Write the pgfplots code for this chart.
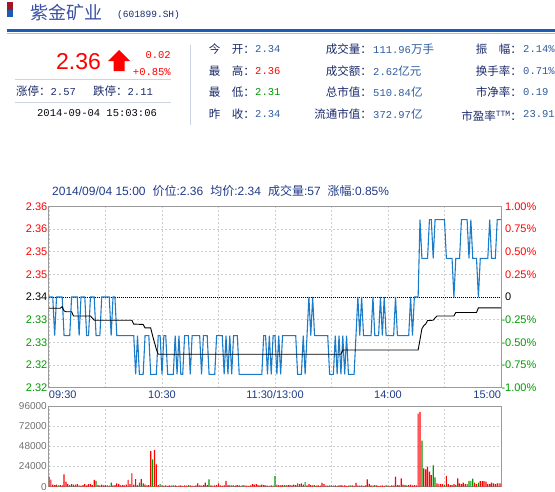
\documentclass[border=0pt]{standalone}
\usepackage{pgfplots}
\pgfplotsset{compat=1.18}
\usepackage{fontspec}
\setmainfont{Liberation Sans}
\newfontfamily\cjk{Noto Sans CJK SC}
\newfontfamily\mono{Liberation Mono}
\definecolor{navy}{HTML}{1B2A6B}
\definecolor{valblue}{HTML}{2E5C9E}
\definecolor{titleblue}{HTML}{3A4FA5}
\definecolor{upred}{HTML}{FF0000}
\definecolor{dngreen}{HTML}{009900}
\definecolor{framegray}{HTML}{9A9A9A}
\definecolor{gridgray}{HTML}{CFCFCF}
\definecolor{priceblue}{HTML}{1A7BC9}
\definecolor{labelnavy}{HTML}{1E3A8A}
\definecolor{lineblue}{HTML}{1E5CB3}
\definecolor{lightline}{HTML}{A9C0E0}
\definecolor{sepgray}{HTML}{CDD3E2}
\definecolor{volgray}{HTML}{707070}
\definecolor{markred}{HTML}{A01828}
\newcommand{\lab}{\cjk\fontsize{11.5bp}{12bp}\selectfont}
\newcommand{\val}{\mono\fontsize{10.5bp}{12bp}\selectfont}
\begin{document}
\begin{tikzpicture}
\useasboundingbox (0,0) rectangle (555bp,-492bp);
\begin{scope}[x=1bp,y=-1bp]
  % top header
  \fill[markred] (7,2) rectangle (13,10);
  \fill[lineblue] (7,10) rectangle (13,17);
  \node[anchor=west,inner sep=0,text=titleblue,font=\cjk\fontsize{18bp}{18bp}\selectfont] at (30,13) {紫金矿业};
  \node[anchor=west,inner sep=0,text=navy,font=\mono\fontsize{9.5bp}{10bp}\selectfont] at (117,15) {(601899.SH)};
  \fill[lineblue] (7,28.7) rectangle (555,31.7);
  \fill[lightline] (7,32.7) rectangle (555,33.7);
  % price block
  \node[anchor=west,inner sep=0,text=upred,font=\fontsize{23bp}{23bp}\selectfont] at (56,62) {2.36};
  \fill[upred] (119,50) -- (130,61) -- (124.5,61) -- (124.5,71) -- (113.5,71) -- (113.5,61) -- (108,61) -- cycle;
  \node[anchor=east,inner sep=0,text=upred,font=\val] at (171,55) {0.02};
  \node[anchor=east,inner sep=0,text=upred,font=\val] at (171,72) {+0.85\%};
  \draw[sepgray,line width=0.8bp] (15,79) -- (171,79);
  \node[anchor=west,inner sep=0,text=navy] at (16,91) {{\lab 涨停：}{\val 2.57}};
  \node[anchor=west,inner sep=0,text=navy] at (93,91) {{\lab 跌停：}{\val 2.11}};
  \draw[sepgray,line width=0.8bp] (15,102) -- (171,102);
  \node[anchor=west,inner sep=0,text=black!85!navy,font=\val] at (37,113) {2014-09-04 15:03:06};
  \draw[sepgray,line width=0.8bp] (190,45) -- (190,125);
  % column 1
  \node[anchor=east,inner sep=0,text=navy,font=\lab] at (255,49) {今　开：};
  \node[anchor=west,inner sep=0,text=valblue,font=\val] at (255,49) {2.34};
  \node[anchor=east,inner sep=0,text=navy,font=\lab] at (255,71) {最　高：};
  \node[anchor=west,inner sep=0,text=upred,font=\val] at (255,71) {2.36};
  \node[anchor=east,inner sep=0,text=navy,font=\lab] at (255,92) {最　低：};
  \node[anchor=west,inner sep=0,text=dngreen,font=\val] at (255,92) {2.31};
  \node[anchor=east,inner sep=0,text=navy,font=\lab] at (255,114) {昨　收：};
  \node[anchor=west,inner sep=0,text=valblue,font=\val] at (255,114) {2.34};
  % column 2
  \node[anchor=east,inner sep=0,text=navy,font=\lab] at (372,49) {成交量：};
  \node[anchor=west,inner sep=0,text=valblue] at (373,49) {{\val 111.96}{\lab 万手}};
  \node[anchor=east,inner sep=0,text=navy,font=\lab] at (372,71) {成交额：};
  \node[anchor=west,inner sep=0,text=valblue] at (373,71) {{\val 2.62}{\lab 亿元}};
  \node[anchor=east,inner sep=0,text=navy,font=\lab] at (372,92) {总市值：};
  \node[anchor=west,inner sep=0,text=valblue] at (373,92) {{\val 510.84}{\lab 亿}};
  \node[anchor=east,inner sep=0,text=navy,font=\lab] at (372,114) {流通市值：};
  \node[anchor=west,inner sep=0,text=valblue] at (373,114) {{\val 372.97}{\lab 亿}};
  % column 3
  \node[anchor=east,inner sep=0,text=navy,font=\lab] at (522,49) {振　幅：};
  \node[anchor=west,inner sep=0,text=valblue,font=\val] at (523,49) {2.14\%};
  \node[anchor=east,inner sep=0,text=navy,font=\lab] at (522,71) {换手率：};
  \node[anchor=west,inner sep=0,text=valblue,font=\val] at (523,71) {0.71\%};
  \node[anchor=east,inner sep=0,text=navy,font=\lab] at (522,92) {市净率：};
  \node[anchor=west,inner sep=0,text=valblue,font=\val] at (523,92) {0.19};
  \node[anchor=east,inner sep=0,text=navy] at (522,116) {{\lab 市盈率}\raisebox{4bp}{\mono\fontsize{8bp}{8bp}\selectfont TTM}{\lab ：}};
  \node[anchor=west,inner sep=0,text=valblue,font=\val] at (523,114) {23.91};
  % chart title
  \node[anchor=west,inner sep=0,text=labelnavy,font=\fontsize{12bp}{13bp}\selectfont] at (52,191)
    {2014/09/04 15:00\hspace{7bp}{\cjk 价位}:2.36\hspace{7bp}{\cjk 均价}:2.34\hspace{7bp}{\cjk 成交量}:57\hspace{7bp}{\cjk 涨幅}:0.85\%};
\end{scope}

% ---------------- main price chart ----------------
\begin{axis}[
  at={(49bp,-387.5bp)}, anchor=south west,
  scale only axis, width=452bp, height=181bp,
  xmin=0, xmax=240, ymin=2.3166, ymax=2.3634,
  axis line style={framegray, line width=1bp},
  major tick length=0pt,
  xtick={0,30,...,240},
  xticklabels={\makebox[0pt][l]{09:30},,10:30,,11:30/13:00,,14:00,,\makebox[0pt][r]{15:00}},
  xticklabel style={text=labelnavy, font=\fontsize{11bp}{12bp}\selectfont, inner sep=0pt, yshift=-3bp},
  ytick={2.3166,2.32245,2.3283,2.33415,2.34,2.34585,2.3517,2.35755,2.3634},
  yticklabels={\textcolor{dngreen}{2.32},\textcolor{dngreen}{2.32},\textcolor{dngreen}{2.33},\textcolor{dngreen}{2.33},\textcolor{black}{2.34},\textcolor{upred}{2.35},\textcolor{upred}{2.35},\textcolor{upred}{2.36},\textcolor{upred}{2.36}},
  yticklabel style={font=\fontsize{11bp}{12bp}\selectfont, inner sep=0pt, xshift=-1.5bp},
  grid=major, major grid style={gridgray, dash pattern=on 2bp off 2bp, line width=0.6bp},
]
\addplot[black, line width=0.6bp, dash pattern=on 1bp off 1bp] coordinates {(0,2.34)(240,2.34)};
\addplot[priceblue, line width=1.1bp] coordinates {
(0,2.34)(1,2.34)(2,2.34)(3,2.33)(4,2.34)(5,2.34)(6,2.34)(7,2.34)(8,2.33)(9,2.33)
(10,2.33)(11,2.33)(12,2.34)(13,2.34)(14,2.34)(15,2.34)(16,2.33)(17,2.34)(18,2.34)(19,2.34)
(20,2.33)(21,2.33)(22,2.34)(23,2.34)(24,2.34)(25,2.33)(26,2.33)(27,2.33)(28,2.34)(29,2.34)
(30,2.34)(31,2.34)(32,2.34)(33,2.33)(34,2.34)(35,2.34)(36,2.33)(37,2.33)(38,2.33)(39,2.33)
(40,2.33)(41,2.33)(42,2.33)(43,2.33)(44,2.33)(45,2.33)(46,2.32)(47,2.33)(48,2.32)(49,2.32)
(50,2.32)(51,2.33)(52,2.33)(53,2.33)(54,2.32)(55,2.32)(56,2.32)(57,2.32)(58,2.33)(59,2.33)
(60,2.32)(61,2.33)(62,2.33)(63,2.32)(64,2.32)(65,2.32)(66,2.32)(67,2.33)(68,2.32)(69,2.33)
(70,2.32)(71,2.32)(72,2.33)(73,2.33)(74,2.33)(75,2.32)(76,2.33)(77,2.33)(78,2.33)(79,2.33)
(80,2.33)(81,2.32)(82,2.33)(83,2.33)(84,2.33)(85,2.32)(86,2.32)(87,2.32)(88,2.32)(89,2.33)
(90,2.33)(91,2.33)(92,2.33)(93,2.32)(94,2.33)(95,2.32)(96,2.33)(97,2.32)(98,2.33)(99,2.33)
(100,2.33)(101,2.32)(102,2.32)(103,2.32)(104,2.32)(105,2.32)(106,2.32)(107,2.32)(108,2.32)(109,2.32)
(110,2.32)(111,2.32)(112,2.32)(113,2.32)(114,2.33)(115,2.33)(116,2.32)(117,2.33)(118,2.32)(119,2.33)
(120,2.33)(121,2.32)(122,2.33)(123,2.32)(124,2.33)(125,2.33)(126,2.33)(127,2.33)(128,2.33)(129,2.33)
(130,2.33)(131,2.33)(132,2.32)(133,2.32)(134,2.32)(135,2.33)(136,2.32)(137,2.33)(138,2.34)(139,2.33)
(140,2.34)(141,2.33)(142,2.33)(143,2.33)(144,2.33)(145,2.33)(146,2.33)(147,2.33)(148,2.33)(149,2.32)
(150,2.32)(151,2.32)(152,2.33)(153,2.32)(154,2.33)(155,2.32)(156,2.33)(157,2.32)(158,2.33)(159,2.32)
(160,2.32)(161,2.32)(162,2.32)(163,2.33)(164,2.34)(165,2.33)(166,2.34)(167,2.33)(168,2.33)(169,2.33)
(170,2.33)(171,2.33)(172,2.34)(173,2.33)(174,2.33)(175,2.33)(176,2.34)(177,2.33)(178,2.34)(179,2.33)
(180,2.33)(181,2.33)(182,2.33)(183,2.33)(184,2.34)(185,2.33)(186,2.33)(187,2.33)(188,2.33)(189,2.33)
(190,2.33)(191,2.33)(192,2.34)(193,2.33)(194,2.34)(195,2.34)(196,2.34)(197,2.36)(198,2.35)(199,2.35)
(200,2.35)(201,2.35)(202,2.36)(203,2.36)(204,2.35)(205,2.36)(206,2.36)(207,2.36)(208,2.36)(209,2.36)
(210,2.36)(211,2.35)(212,2.35)(213,2.35)(214,2.35)(215,2.34)(216,2.35)(217,2.35)(218,2.35)(219,2.36)
(220,2.36)(221,2.36)(222,2.36)(223,2.35)(224,2.36)(225,2.35)(226,2.35)(227,2.35)(228,2.34)(229,2.35)
(230,2.35)(231,2.35)(232,2.35)(233,2.35)(234,2.36)(235,2.35)(236,2.35)(237,2.35)(238,2.36)(239,2.36)
(240,2.36)};
\addplot[black, line width=0.9bp] coordinates {
(0,2.3371)(6,2.3371)(7,2.3375)(8,2.3364)(9,2.3362)(12,2.3362)(13,2.3351)(22,2.3351)(24,2.3340)
(44,2.3340)(45,2.3330)(50,2.3329)(51,2.3320)(54,2.3320)(55,2.3300)(57,2.3265)(58,2.3252)
(155,2.3252)(156,2.3263)(196,2.3263)(197,2.3290)(198,2.3318)(199,2.3326)(200,2.3330)(201,2.3339)
(204,2.3340)(205,2.3346)(206,2.3351)(215,2.3351)(216,2.3360)(227,2.3360)(228,2.3372)(240,2.3372)};
\end{axis}

% ---------------- right percentage axis ----------------
\begin{axis}[
  at={(49bp,-387.5bp)}, anchor=south west,
  scale only axis, width=452bp, height=181bp,
  xmin=0, xmax=240, ymin=-1, ymax=1,
  axis y line*=right, axis x line=none,
  axis line style={framegray, line width=1bp},
  major tick length=0pt,
  ytick={-1,-0.75,-0.5,-0.25,0,0.25,0.5,0.75,1},
  yticklabels={\textcolor{dngreen}{\llap{-}1.00\%},\textcolor{dngreen}{\llap{-}0.75\%},\textcolor{dngreen}{\llap{-}0.50\%},\textcolor{dngreen}{\llap{-}0.25\%},\textcolor{black}{0},\textcolor{upred}{0.25\%},\textcolor{upred}{0.50\%},\textcolor{upred}{0.75\%},\textcolor{upred}{1.00\%}},
  yticklabel style={font=\fontsize{11bp}{12bp}\selectfont, anchor=west, inner sep=0pt, xshift=4bp},
]
\addplot[draw=none] coordinates {(0,0)(240,0)};
\end{axis}

% ---------------- volume chart ----------------
\begin{axis}[
  at={(49bp,-486.7bp)}, anchor=south west,
  scale only axis, width=452bp, height=80.7bp,
  xmin=0, xmax=240, ymin=0, ymax=96000,
  axis line style={framegray, line width=1bp},
  major tick length=0pt,
  xtick={0,30,...,240}, xticklabels={},
  ytick={0,24000,48000,72000,96000},
  yticklabels={0,24000,48000,72000,96000},
  scaled y ticks=false,
  yticklabel style={text=volgray, font=\fontsize{10bp}{11bp}\selectfont, inner sep=0pt, xshift=-2bp},
  grid=major, major grid style={gridgray, dash pattern=on 2bp off 2bp, line width=0.6bp},
]
\addplot[ybar, bar width=1.2bp, bar shift=0pt, fill=upred, draw=none] coordinates {
(0,12000)(1,8500)(2,2500)(3,2000)(4,2500)(6,2000)(7,1500)(8,14700)(9,6000)(10,3000)(12,3000)(13,2500)(15,3000)(16,1500)(17,1200)(18,2000)(19,3000)(20,1500)(21,3000)(22,3500)(23,2000)(24,8000)(26,2000)(27,1500)(28,2500)(29,1500)(30,2000)(32,1200)(34,1500)(35,2000)(36,4000)(37,3000)(38,1500)(39,2000)(40,1500)(41,2500)(42,8000)(43,3000)(44,16000)(45,2500)(46,9000)(47,2000)(49,9000)(51,2500)(52,1500)(53,2000)(54,42500)(56,43600)(57,26600)(58,2000)(60,1500)(61,1200)(62,1500)(63,1000)(64,1500)(65,1200)(67,1500)(68,1000)(69,1200)(70,1500)(71,1000)(72,1500)(73,1200)(75,1500)(76,1200)(77,1000)(78,1500)(79,4000)(80,1500)(81,1200)(82,2000)(83,5000)(84,2000)(86,1500)(87,1200)(88,1500)(89,2000)(90,4000)(91,1500)(92,1200)(93,1500)(94,7000)(95,2000)(96,1500)(98,1500)(99,1200)(100,2000)(101,1500)(102,1200)(104,1500)(105,1200)(106,1000)(107,1500)(108,3000)(109,2500)(110,3000)(111,2000)(112,1500)(113,2500)(114,2000)(115,1500)(116,1200)(117,1000)(118,1500)(119,1200)(121,2500)(122,2000)(123,1500)(124,2000)(126,1500)(127,2000)(128,2000)(129,1500)(130,2500)(131,2000)(133,3000)(134,4000)(135,2500)(137,1500)(138,3000)(139,2000)(140,1500)(142,1200)(143,1500)(144,1200)(145,4500)(146,3000)(147,1500)(148,1200)(149,1500)(151,1200)(152,1500)(153,1000)(154,1500)(155,2000)(156,1200)(157,1500)(158,1000)(159,1200)(161,1500)(162,1200)(163,4500)(164,1500)(165,1200)(166,1500)(167,1000)(168,1500)(169,8700)(170,3500)(171,1500)(172,1200)(174,1500)(175,1000)(176,1200)(177,1500)(178,1000)(180,1200)(181,1000)(182,1500)(183,1200)(184,12000)(185,2000)(186,1500)(187,10000)(188,2500)(189,2000)(191,2000)(192,2500)(193,1500)(194,2000)(195,1500)(196,87000)(197,89000)(199,21800)(200,20600)(201,23800)(202,17800)(203,13900)(206,4000)(207,3000)(208,3000)(209,3000)(211,13000)(212,3000)(213,2000)(214,2000)(215,3000)(217,10000)(218,4000)(219,3000)(220,5000)(221,3000)(222,3000)(226,5000)(227,3000)(229,6500)(230,6500)(231,6500)(232,6000)(233,3000)(234,3000)(235,5000)(236,4000)(237,3000)(238,4000)(239,4000)(240,4000)};
\addplot[ybar, bar width=1.2bp, bar shift=0pt, fill=dngreen, draw=none] coordinates {
(5,1500)(11,2000)(14,2500)(25,7000)(31,1500)(33,5000)(48,5000)(50,4000)(55,32500)(59,3000)(66,1500)(74,2000)(85,8700)(97,1500)(103,2000)(120,12700)(125,2000)(132,4000)(136,5500)(141,2000)(150,1500)(160,1500)(173,2000)(179,2000)(190,1500)(198,54700)(204,25400)(205,11000)(210,2500)(216,2000)(223,7000)(224,7000)(225,9500)(228,5000)};
\end{axis}
\end{tikzpicture}
\end{document}
